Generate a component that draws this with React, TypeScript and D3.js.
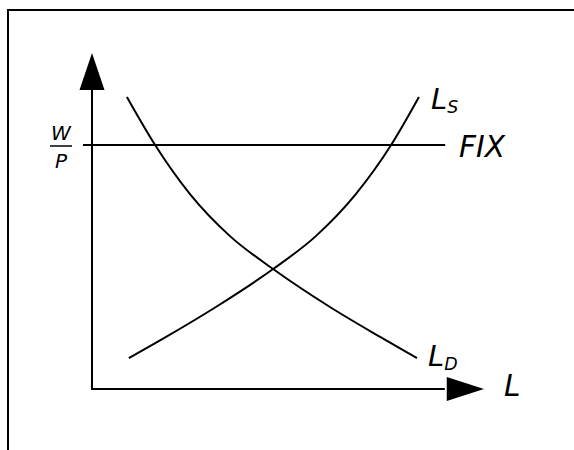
import React, { useEffect, useRef } from 'react';
import * as d3 from 'd3';

const demandL = [8.9, 16.1, 25.0, 35.2, 46.2, 60.7, 73.5, 82.9];
const demandW = [86.9, 72.6, 58.0, 45.5, 35.7, 24.4, 15.5, 9.2];
const supplyL = [9.4, 18.9, 31.6, 46.2, 57.1, 67.3, 76.3, 83.4];
const supplyW = [9.2, 15.5, 24.4, 35.7, 45.5, 58.0, 72.6, 86.9];
const fixWage = 72.6;
const fixRange = [-2.3, 90.1];

const W = 574;
const H = 450;

const App = () => {
  const chartRef = useRef<SVGSVGElement>(null);

  useEffect(() => {
    const svg = d3.select(chartRef.current);
    svg.selectAll('*').remove();

    const x = d3.scaleLinear().domain([0, 100]).range([92, 484]);
    const y = d3.scaleLinear().domain([0, 100]).range([389, 53]);
    const font = '"DejaVu Sans", Verdana, sans-serif';

    // frame (top and left edges only)
    svg.append('path').attr('d', `M8,450 L8,10 L${W},10`).attr('fill', 'none').attr('stroke', '#000').attr('stroke-width', 2);

    // axes
    const x0 = x(0);
    const y0 = y(0);
    svg.append('line').attr('x1', x0).attr('y1', y0).attr('x2', x0).attr('y2', y(89)).attr('stroke', '#000').attr('stroke-width', 2);
    svg.append('line').attr('x1', x0 - 1).attr('y1', y0).attr('x2', x(90)).attr('y2', y0).attr('stroke', '#000').attr('stroke-width', 2);

    // arrow heads
    svg.append('path')
      .attr('d', `M${x0},${y(100)} L${x0 - 12.5},${y(89)} L${x0 + 12.5},${y(89)} Z`)
      .attr('fill', '#000');
    svg.append('path')
      .attr('d', `M${x(100)},${y0} L${x(90.5)},${y0 - 12} L${x(90.5)},${y0 + 12} Z`)
      .attr('fill', '#000');

    // fixed wage line
    svg.append('line')
      .attr('x1', x(fixRange[0])).attr('y1', y(fixWage))
      .attr('x2', x(fixRange[1])).attr('y2', y(fixWage))
      .attr('stroke', '#000').attr('stroke-width', 2);

    const line = d3.line<[number, number]>()
      .x((d) => x(d[0]))
      .y((d) => y(d[1]))
      .curve(d3.curveMonotoneX);

    const demand = demandL.map((l, i) => [l, demandW[i]] as [number, number]);
    const supply = supplyL.map((l, i) => [l, supplyW[i]] as [number, number]);

    svg.append('path').attr('d', line(demand)).attr('fill', 'none').attr('stroke', '#000').attr('stroke-width', 2);
    svg.append('path').attr('d', line(supply)).attr('fill', 'none').attr('stroke', '#000').attr('stroke-width', 2);

    // labels
    const label = (tx: number, ty: number, main: string, sub: string | null, size: number) => {
      const t = svg.append('text')
        .attr('x', tx).attr('y', ty)
        .attr('font-family', font).attr('font-style', 'italic')
        .attr('font-size', size).attr('fill', '#000');
      t.append('tspan').text(main);
      if (sub) {
        t.append('tspan').attr('font-size', size * 0.6).attr('dy', 4).text(sub);
      }
    };

    label(431, 109, 'L', 'S', 29);
    label(428, 366, 'L', 'D', 29);
    label(459, 157, 'FIX', null, 29.5);
    label(504, 396, 'L', null, 29.5);

    // W / P fraction
    svg.append('text').attr('x', 61).attr('y', 140).attr('text-anchor', 'middle')
      .attr('font-family', font).attr('font-style', 'italic').attr('font-size', 20).text('W');
    svg.append('line').attr('x1', 50).attr('y1', 146).attr('x2', 72).attr('y2', 146)
      .attr('stroke', '#000').attr('stroke-width', 1.5);
    svg.append('text').attr('x', 61).attr('y', 168).attr('text-anchor', 'middle')
      .attr('font-family', font).attr('font-style', 'italic').attr('font-size', 20).text('P');
  }, []);

  return (
    <div style={{ position: 'fixed', left: 0, top: 0, width: W, height: H, background: '#fff' }}>
      <svg ref={chartRef} width={W} height={H}></svg>
    </div>
  );
};

export default App;
